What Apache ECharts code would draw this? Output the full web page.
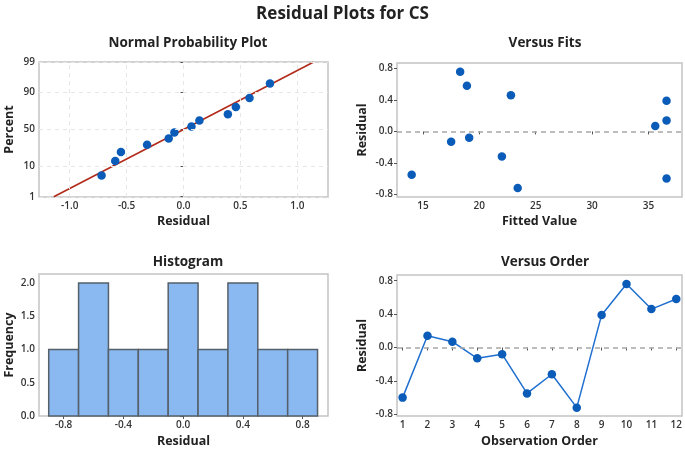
<!DOCTYPE html>
<html>
<head>
<meta charset="utf-8">
<script src="https://cdn.jsdelivr.net/npm/echarts@6/dist/echarts.min.js"></script>
<style>html,body{margin:0;padding:0;background:#fff}#c{width:685px;height:450px}</style>
</head>
<body>
<div id="c"></div>
<script>
// ---- data ----
const observations = [1,2,3,4,5,6,7,8,9,10,11,12];
const residuals = [-0.60, 0.14, 0.07, -0.13, -0.08, -0.55, -0.32, -0.72, 0.39, 0.76, 0.46, 0.58];
const fittedValues = [36.6, 36.6, 35.6, 17.5, 19.1, 14.0, 22.0, 23.4, 36.6, 18.3, 22.8, 18.9];
// normal probability plot: sorted residuals with their plotted percents
const probResiduals = [-0.72, -0.60, -0.55, -0.32, -0.13, -0.08, 0.07, 0.14, 0.39, 0.46, 0.58, 0.76];
const probPercents = [5.6, 13.7, 21.8, 29.8, 37.9, 46.0, 54.0, 62.1, 70.2, 78.2, 86.3, 94.4];
const fitLineResidual = [-1.14, 1.14];
const fitLinePercent = [1, 99];
const percentTicks = [1, 10, 50, 90, 99];
const probXTicks = [-1.0, -0.5, 0.0, 0.5, 1.0];
// histogram
const binStarts = [-0.9, -0.7, -0.5, -0.3, -0.1, 0.1, 0.3, 0.5, 0.7];
const binWidth = 0.2;
const binCounts = [1, 2, 1, 1, 2, 1, 2, 1, 1];
const histXTicks = [-0.8, -0.4, 0.0, 0.4, 0.8];
const histYTicks = [0.0, 0.5, 1.0, 1.5, 2.0];
const residTicks = [-0.8, -0.4, 0.0, 0.4, 0.8];
const fitTicks = [15, 20, 25, 30, 35];

// inverse normal CDF (probability scale transform)
function probit(p) {
  const a=[-3.969683028665376e+01,2.209460984245205e+02,-2.759285104469687e+02,1.383577518672690e+02,-3.066479806614716e+01,2.506628277459239e+00];
  const b=[-5.447609879822406e+01,1.615858368580409e+02,-1.556989798598866e+02,6.680131188771972e+01,-1.328068155288572e+01];
  const c=[-7.784894002430293e-03,-3.223964580411365e-01,-2.400758277161838e+00,-2.549732539343734e+00,4.374664141464968e+00,2.938163982698783e+00];
  const d=[7.784695709041462e-03,3.224671290700398e-01,2.445134137142996e+00,3.754408661907416e+00];
  const pl=0.02425, ph=1-pl; let q,r;
  if (p<pl){q=Math.sqrt(-2*Math.log(p));return (((((c[0]*q+c[1])*q+c[2])*q+c[3])*q+c[4])*q+c[5])/((((d[0]*q+d[1])*q+d[2])*q+d[3])*q+1);}
  if (p<=ph){q=p-0.5;r=q*q;return (((((a[0]*r+a[1])*r+a[2])*r+a[3])*r+a[4])*r+a[5])*q/(((((b[0]*r+b[1])*r+b[2])*r+b[3])*r+b[4])*r+1);}
  q=Math.sqrt(-2*Math.log(1-p));return -(((((c[0]*q+c[1])*q+c[2])*q+c[3])*q+c[4])*q+c[5])/((((d[0]*q+d[1])*q+d[2])*q+d[3])*q+1);
}
const z = pct => probit(pct/100);

const FONT = '"Open Sans", "Noto Sans", sans-serif';
const TXT = '#222';
const BLUE = '#0a5cb8';
const tickLabel = {color:'#333', fontSize:10, fontWeight:600, fontFamily:FONT, margin:4};
const axisName = {color:TXT, fontSize:12.5, fontWeight:700, fontFamily:FONT};
const fmt1 = v => (Math.abs(v)<1e-9 ? '0.0' : (+v).toFixed(1));

function valAxis(gi, min, max, ticks, name, nameGap, isY, formatter) {
  return {
    type:'value', gridIndex:gi, min:min, max:max,
    name:name, nameLocation:'middle', nameGap:nameGap, nameTextStyle:axisName,
    axisLine:{show:false},
    axisTick:{show:true, customValues:ticks, length:3, lineStyle:{color:'#555', width:1}},
    axisLabel:Object.assign({}, tickLabel, {customValues:ticks, formatter:formatter, showMinLabel:true, showMaxLabel:true}),
    splitLine:{show:false}
  };
}

const grids = [
  {left:39, top:62, width:289, height:135},
  {left:397, top:63, width:285, height:134},
  {left:39, top:274, width:289, height:142},
  {left:397, top:275, width:285, height:141}
].map(g => Object.assign(g, {show:true, borderColor:'#c4c4c4', borderWidth:1.5, containLabel:false}));

const probGridLines = [];
probXTicks.forEach(v => probGridLines.push({xAxis:v}));
percentTicks.forEach(p => probGridLines.push({yAxis:z(p)}));

const option = {
  backgroundColor:'#fff',
  animation:false,
  title:[
    {text:'Residual Plots for CS', left:'center', top:1, textStyle:{fontSize:17, fontWeight:700, color:TXT, fontFamily:FONT}},
    {text:'Normal Probability Plot', left:183, textAlign:'center', top:31, textStyle:{fontSize:13.5, fontWeight:700, color:TXT, fontFamily:FONT}},
    {text:'Versus Fits', left:540, textAlign:'center', top:31, textStyle:{fontSize:13.5, fontWeight:700, color:TXT, fontFamily:FONT}},
    {text:'Histogram', left:183, textAlign:'center', top:250, textStyle:{fontSize:13.5, fontWeight:700, color:TXT, fontFamily:FONT}},
    {text:'Versus Order', left:540, textAlign:'center', top:250, textStyle:{fontSize:13.5, fontWeight:700, color:TXT, fontFamily:FONT}}
  ],
  grid:grids,
  xAxis:[
    valAxis(0, -1.27, 1.27, probXTicks, 'Residual', 18, false, fmt1),
    valAxis(1, 12.7, 37.97, fitTicks, 'Fitted Value', 18, false, v => String(v)),
    valAxis(2, -0.965, 0.97, histXTicks, 'Residual', 19, false, fmt1),
    valAxis(3, 0.775, 12.23, observations, 'Observation Order', 19, false, v => String(v))
  ],
  yAxis:[
    valAxis(0, z(1)-0.01, z(99)+0.01, percentTicks.map(z), 'Percent', 23, true, v => { let best=percentTicks[0]; percentTicks.forEach(p=>{ if(Math.abs(z(p)-v)<Math.abs(z(best)-v)) best=p; }); return String(best); }),
    valAxis(1, -0.834, 0.87, residTicks, 'Residual', 28, true, fmt1),
    valAxis(2, 0, 2.136, histYTicks, 'Frequency', 23, true, fmt1),
    valAxis(3, -0.82, 0.868, residTicks, 'Residual', 28, true, fmt1)
  ],
  series:[
    // gridlines for probability plot
    {type:'line', xAxisIndex:0, yAxisIndex:0, data:[], silent:true,
     markLine:{silent:true, symbol:'none', label:{show:false}, animation:false,
       lineStyle:{color:'#e6e6e6', type:[4,4], width:1}, data:probGridLines}},
    {type:'line', xAxisIndex:0, yAxisIndex:0, silent:true, symbol:'none',
     lineStyle:{color:'#b22a1a', width:1.6}, z:3,
     data:fitLineResidual.map((r,i)=>[r, z(fitLinePercent[i])])},
    {type:'scatter', xAxisIndex:0, yAxisIndex:0, symbolSize:8.5, z:4,
     itemStyle:{color:BLUE, opacity:1},
     data:probResiduals.map((r,i)=>[r, z(probPercents[i])])},
    // versus fits
    {type:'scatter', xAxisIndex:1, yAxisIndex:1, symbolSize:8.5, z:4,
     itemStyle:{color:BLUE, opacity:1},
     data:fittedValues.map((f,i)=>[f, residuals[i]]),
     markLine:{silent:true, symbol:'none', label:{show:false}, animation:false,
       lineStyle:{color:'#a8a8a8', type:[5,4], width:1.5}, data:[{yAxis:0}]}},
    // histogram
    {type:'custom', xAxisIndex:2, yAxisIndex:2,
     data:binStarts.map((s,i)=>[s, s+binWidth, binCounts[i]]),
     renderItem:function(params, api){
       const p0 = api.coord([api.value(0), api.value(2)]);
       const p1 = api.coord([api.value(1), 0]);
       return {type:'rect', shape:{x:p0[0], y:p0[1], width:p1[0]-p0[0], height:p1[1]-p0[1]},
               style:{fill:'#8ab9f1', stroke:'#55606a', lineWidth:1.5}};
     }},
    // versus order
    {type:'line', xAxisIndex:3, yAxisIndex:3, symbol:'circle', symbolSize:8.5, z:4,
     lineStyle:{color:'#1f6fd0', width:1.5}, itemStyle:{color:BLUE},
     data:observations.map((o,i)=>[o, residuals[i]]),
     markLine:{silent:true, symbol:'none', label:{show:false}, animation:false,
       lineStyle:{color:'#a8a8a8', type:[5,4], width:1.5}, data:[{yAxis:0}]}}
  ]
};
echarts.init(document.getElementById('c'), null, {renderer:'canvas'}).setOption(option);
</script>
</body>
</html>
